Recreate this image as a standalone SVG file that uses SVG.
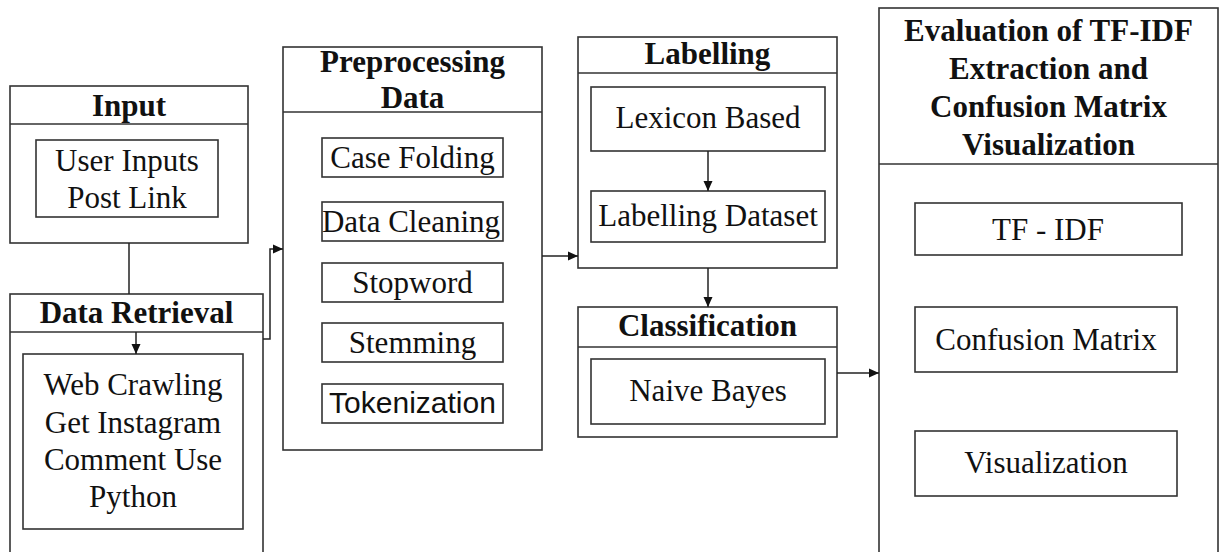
<svg xmlns="http://www.w3.org/2000/svg" width="1222" height="552" viewBox="0 0 1222 552">
<defs>
<marker id="ah" viewBox="0 0 10 10" refX="10" refY="5" markerWidth="10" markerHeight="10" markerUnits="userSpaceOnUse" orient="auto"><path d="M0,0.5 L10,5 L0,9.5 z" fill="#111"/></marker>
</defs>
<style>
.box{fill:#fff;stroke:#333;stroke-width:1.6}
.ln{fill:none;stroke:#333;stroke-width:1.6}
.t{font-family:"Liberation Serif","Times New Roman",serif;font-size:31px;fill:#111;text-anchor:middle}
.h{font-weight:bold}
.s{font-family:"Liberation Sans",Arial,sans-serif;font-size:30px}
.c{fill:none;stroke:#222;stroke-width:1.5}
</style>
<rect width="1222" height="552" fill="#fff"/>
<g id="input">
<rect class="box" x="10" y="86" width="238" height="157"/>
<line class="ln" x1="10" y1="124" x2="248" y2="124"/>
<text class="t h" x="129" y="116">Input</text>
<rect class="box" x="36" y="140" width="182" height="77"/>
<text class="t" x="127" y="171">User Inputs</text>
<text class="t" x="127" y="208">Post Link</text>
</g>
<g id="data-retrieval">
<rect class="box" x="10" y="294" width="253" height="300"/>
<line class="ln" x1="10" y1="332" x2="263" y2="332"/>
<text class="t h" x="136.5" y="323">Data Retrieval</text>
<rect class="box" x="23" y="354" width="220" height="175"/>
<text class="t" x="133" y="395">Web Crawling</text>
<text class="t" x="133" y="433">Get Instagram</text>
<text class="t" x="133" y="470">Comment Use</text>
<text class="t" x="133" y="507">Python</text>
</g>
<g id="preprocessing">
<rect class="box" x="283" y="47" width="259" height="403"/>
<line class="ln" x1="283" y1="112" x2="542" y2="112"/>
<text class="t h" x="412.5" y="72">Preprocessing</text>
<text class="t h" x="412.5" y="108">Data</text>
<rect class="box" x="322" y="138" width="181" height="39"/>
<text class="t" x="412.5" y="168">Case Folding</text>
<rect class="box" x="322" y="202" width="181" height="39"/>
<text class="t" x="411" y="232">Data Cleaning</text>
<rect class="box" x="322" y="263" width="181" height="39"/>
<text class="t" x="412.5" y="293">Stopword</text>
<rect class="box" x="322" y="323" width="181" height="39"/>
<text class="t" x="412.5" y="353">Stemming</text>
<rect class="box" x="322" y="384" width="181" height="39"/>
<text class="t s" x="412.5" y="413">Tokenization</text>
</g>
<g id="labelling">
<rect class="box" x="578" y="37" width="259" height="231"/>
<line class="ln" x1="578" y1="73" x2="837" y2="73"/>
<text class="t h" x="707.5" y="64">Labelling</text>
<rect class="box" x="591" y="87" width="234" height="64"/>
<text class="t" x="708" y="128">Lexicon Based</text>
<rect class="box" x="591" y="191" width="234" height="51"/>
<text class="t" x="708" y="226">Labelling Dataset</text>
</g>
<g id="classification">
<rect class="box" x="578" y="307" width="259" height="130"/>
<line class="ln" x1="578" y1="347" x2="837" y2="347"/>
<text class="t h" x="707.5" y="336">Classification</text>
<rect class="box" x="591" y="359" width="234" height="65"/>
<text class="t" x="708" y="401">Naive Bayes</text>
</g>
<g id="evaluation">
<rect class="box" x="879" y="8" width="339" height="600"/>
<line class="ln" x1="879" y1="164" x2="1218" y2="164"/>
<text class="t h" x="1048.5" y="41">Evaluation of TF-IDF</text>
<text class="t h" x="1048.5" y="79">Extraction and</text>
<text class="t h" x="1048.5" y="117">Confusion Matrix</text>
<text class="t h" x="1048.5" y="155">Visualization</text>
<rect class="box" x="915" y="203" width="267" height="52"/>
<text class="t" x="1048" y="240">TF - IDF</text>
<rect class="box" x="915" y="307" width="262" height="65"/>
<text class="t" x="1046" y="350">Confusion Matrix</text>
<rect class="box" x="915" y="431" width="262" height="65"/>
<text class="t" x="1046" y="473">Visualization</text>
</g>
<g id="connectors">
<path class="c" d="M129,243 V294"/>
<path class="c" d="M136,332 V354" marker-end="url(#ah)"/>
<path class="c" d="M263,339 H270 V249 H283" marker-end="url(#ah)"/>
<path class="c" d="M542,256 H578" marker-end="url(#ah)"/>
<path class="c" d="M708,151 V191" marker-end="url(#ah)"/>
<path class="c" d="M708,268 V307" marker-end="url(#ah)"/>
<path class="c" d="M837,373 H879" marker-end="url(#ah)"/>
</g>
</svg>
